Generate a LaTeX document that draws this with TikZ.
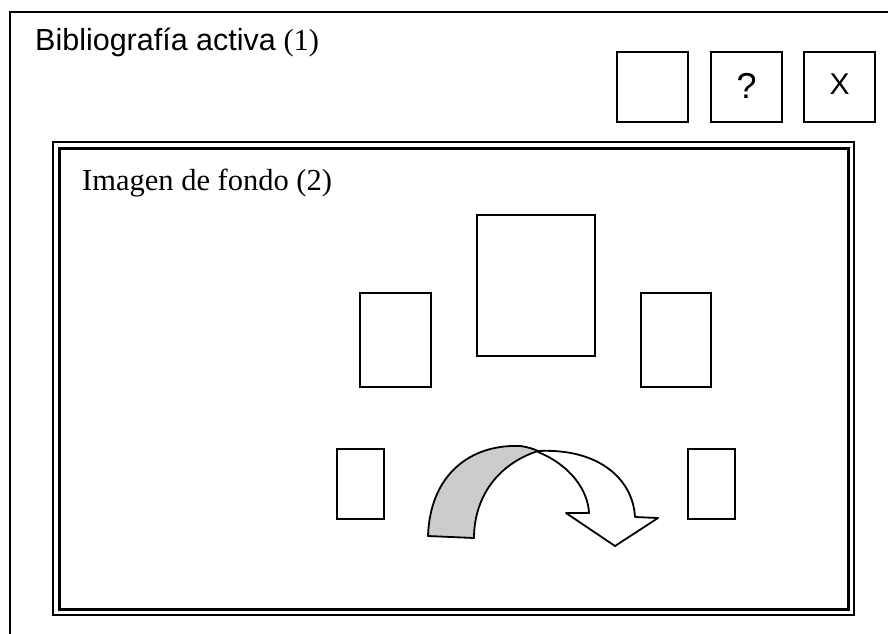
\documentclass[tikz,border=0pt]{standalone}
\usepackage{fontspec}
\setmainfont{Liberation Serif}
\newfontfamily\arial{Liberation Sans}
\usetikzlibrary{positioning}
\tikzstyle{marco} = [rectangle, draw=black, inner sep=0pt, outer sep=0pt]
\tikzstyle{boton} = [marco, line width=1.3pt, minimum width=71pt, minimum height=70pt, font=\arial\fontsize{30}{30}\selectfont]
\tikzstyle{cuadro} = [marco, line width=2pt]
\tikzstyle{texto} = [anchor=base west, inner sep=0pt, font=\fontsize{30.5}{36}\selectfont]
\tikzstyle{flecha} = [draw=black, line width=1.8pt, line join=round]

\begin{document}
\begin{tikzpicture}[x=1pt,y=-1pt]
      \clip (0,0) rectangle (888,633);
      \node (ventana) [marco, line width=1.5pt, minimum width=900pt, minimum height=640pt, anchor=north west] at (10,12) {};
      \node (titulo) [texto] at (35,50) {{\arial Bibliograf\'ia activa} (1)};

      \node (minimizar) [boton] at (652.5,87) {};
      \node (ayuda) [boton, right=23pt of minimizar] {\raisebox{2pt}{\fontsize{36}{36}\selectfont ?}};
      \node (cerrar) [boton, right=22pt of ayuda] {\raisebox{6pt}{X}};

      \node (fondo) [marco, line width=1.5pt, minimum width=801pt, minimum height=473pt] at (453.5,378.5) {};
      \node (fondoin) [marco, line width=3pt, minimum width=789pt, minimum height=461pt] at (fondo.center) {};
      \node (leyenda) [texto] at (82,190) {Imagen de fondo (2)};

      \node (central) [cuadro, minimum width=118pt, minimum height=141pt] at (536,285.5) {};
      \node (izq) [cuadro, minimum width=71pt, minimum height=94pt] at (395.5,340) {};
      \node (der) [cuadro, minimum width=70pt, minimum height=94pt] at (676,340) {};
      \node (izqabajo) [cuadro, minimum width=47pt, minimum height=70pt] at (360.5,484) {};
      \node (derabajo) [cuadro, minimum width=47pt, minimum height=70pt] at (711.5,484) {};

      % flecha curva
      \draw [flecha, fill=white] (538,451) .. controls (600,448) and (633,480) .. (635,517)
            -- (658,518) -- (615,546) -- (566,513) -- (589,513)
            .. controls (588,490) and (570,465) .. (538,452) -- cycle;
      \draw [flecha, fill=gray!40] (428,536) .. controls (430,475) and (470,444) .. (520,446)
            .. controls (528,447) and (534,449) .. (538,451)
            .. controls (495,465) and (474,500) .. (474,538) -- cycle;
\end{tikzpicture}
\end{document}
